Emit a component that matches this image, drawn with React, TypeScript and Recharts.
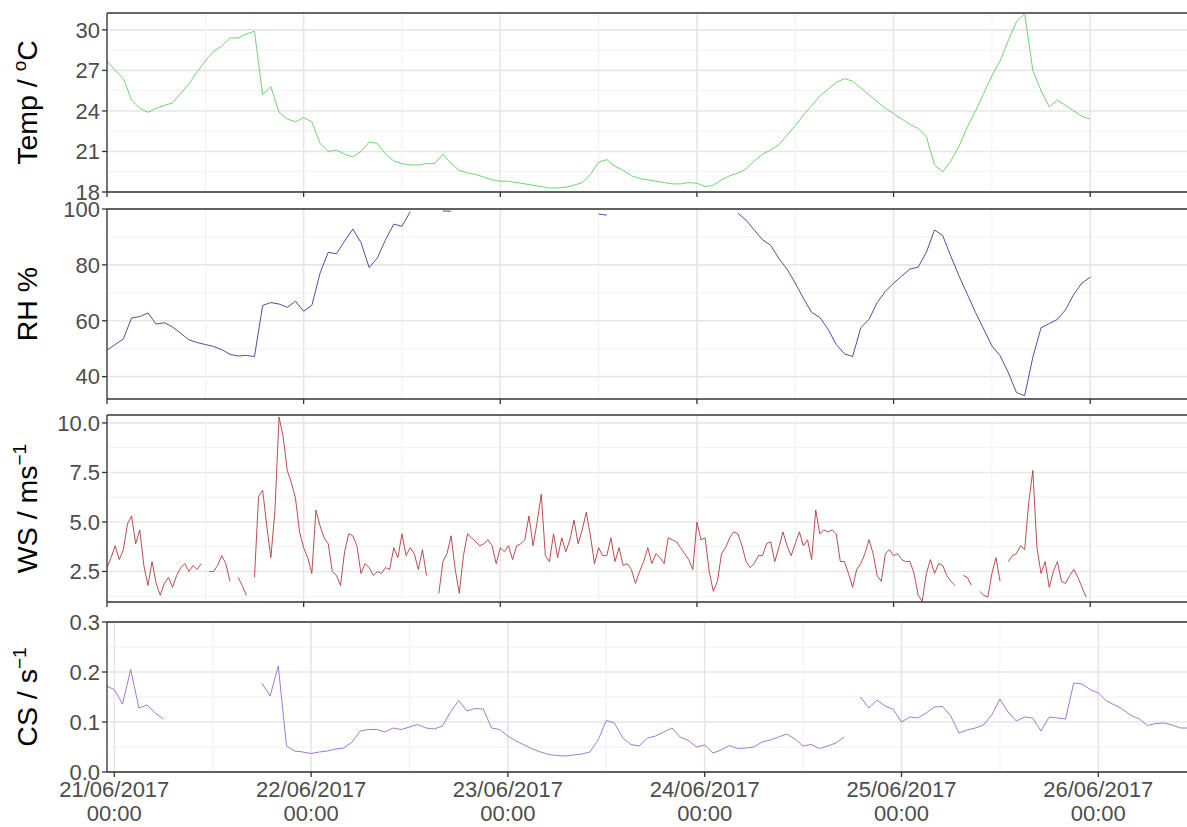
import React from 'react';
import { LineChart, Line, XAxis, YAxis, CartesianGrid, ReferenceLine } from 'recharts';

// hours since 21/06/2017 00:00
const dayTicks = [0, 24, 48, 72, 96, 120];
const halfDayTicks = [12, 36, 60, 84, 108, 132];
const dayLabels = ['21/06/2017', '22/06/2017', '23/06/2017', '24/06/2017', '25/06/2017', '26/06/2017'];
const timeLabel = '00:00';

// temperature, hourly from 0 h
const tempValues = [
  27.7, 27.0, 26.4, 24.8, 24.2, 23.9, 24.2, 24.4, 24.6, 25.3,
  26.0, 26.9, 27.7, 28.4, 28.8, 29.4, 29.4, 29.7, 29.9, 25.2,
  25.8, 23.9, 23.4, 23.2, 23.5, 23.2, 21.6, 21.0, 21.1, 20.8,
  20.6, 21.0, 21.7, 21.6, 20.8, 20.3, 20.1, 20.0, 20.0, 20.1,
  20.1, 20.8, 20.1, 19.6, 19.4, 19.3, 19.1, 18.9, 18.8, 18.8,
  18.7, 18.6, 18.5, 18.4, 18.3, 18.3, 18.35, 18.5, 18.7, 19.3,
  20.2, 20.4, 19.9, 19.6, 19.2, 19.0, 18.9, 18.8, 18.7, 18.6,
  18.6, 18.7, 18.65, 18.4, 18.5, 18.9, 19.2, 19.4, 19.7, 20.3,
  20.8, 21.1, 21.5, 22.2, 22.9, 23.7, 24.4, 25.1, 25.6, 26.1,
  26.4, 26.2, 25.7, 25.2, 24.7, 24.2, 23.8, 23.4, 23.0, 22.7,
  22.1, 20.0, 19.5, 20.3, 21.4, 22.8, 24.0, 25.3, 26.6, 27.7,
  29.2, 30.6, 31.2, 27.0, 25.5, 24.3, 24.8, 24.4, 24.0, 23.6,
  23.4,
];

// relative humidity, hourly from 0 h (null = above the panel)
const rhValues = [
  49.5, 51.5, 53.5, 61, 61.5, 62.8, 58.8, 59.3, 57.8, 55.5,
  53.2, 52.2, 51.5, 50.8, 49.7, 48.0, 47.4, 47.6, 47.2, 65.5,
  66.5, 66.0, 64.8, 67.0, 63.4, 65.5, 77.0, 84.5, 84.0, 88.5,
  92.8, 88.0, 79.0, 82.5, 89.0, 94.6, 93.8, 99.0, null, null,
  null, 99.3, 99.2, null, null, null, null, null, null, null,
  null, null, null, null, null, null, null, null, null, null,
  98.2, 97.8, null, null, null, null, null, null, null, null,
  null, null, null, null, null, null, null, 98.5, 96, 92.5,
  89, 87, 82.3, 78.5, 73.5, 68, 63, 61.2, 57, 51.5,
  48.2, 47.2, 57.5, 60.5, 66.5, 70.5, 73.5, 76, 78.5, 79.2,
  84.5, 92.5, 90.5, 83, 76, 69.5, 63, 57, 51, 47.5,
  41.5, 34.3, 33.2, 47, 57.5, 59, 60.5, 64, 69.5, 73.5,
  75.6,
];

// wind speed, half-hourly from 0 h
const wsValues = [
  2.7, 3.2, 3.8, 3.1, 3.6, 4.9, 5.3, 3.9, 4.6, 2.8,
  1.8, 3.0, 1.9, 1.3, 1.9, 2.2, 1.7, 2.3, 2.7, 2.9,
  2.5, 2.8, 2.6, 2.9, null, 2.5, 2.5, 2.8, 3.3, 2.9,
  2.0, null, 2.2, 1.8, 1.3, null, 2.2, 6.3, 6.6, 4.8,
  3.2, 5.6, 10.3, 9.3, 7.6, 7.0, 6.2, 4.5, 3.7, 3.2,
  2.4, 5.6, 4.8, 4.2, 3.9, 2.5, 2.3, 1.8, 3.5, 4.4,
  4.3, 3.8, 2.4, 2.9, 2.7, 2.3, 2.5, 2.4, 2.7, 2.6,
  3.7, 3.2, 4.4, 3.3, 3.7, 3.4, 2.6, 3.6, 2.3, null,
  null, 1.4, 3.0, 3.4, 4.3, 2.6, 1.4, 3.3, 4.4, 4.2,
  4.0, 3.8, 3.9, 4.1, 3.8, 2.9, 3.7, 3.5, 3.8, 3.1,
  3.8, 3.9, 4.1, 5.3, 3.8, 5.0, 6.4, 3.3, 3.0, 4.4,
  3.2, 4.2, 3.5, 4.1, 5.1, 3.9, 4.6, 5.5, 4.3, 2.9,
  3.7, 3.3, 3.3, 4.2, 3.0, 3.7, 2.8, 2.9, 2.6, 1.9,
  2.5, 3.0, 3.7, 2.9, 3.4, 3.2, 2.9, 4.2, 4.1, 4.0,
  3.7, 3.4, 3.1, 2.6, 5.0, 4.1, 4.2, 2.5, 1.5, 2.0,
  3.4, 3.7, 4.2, 4.5, 4.4, 3.8, 3.0, 2.7, 2.9, 3.3,
  3.3, 3.9, 4.0, 3.0, 3.7, 4.5, 3.8, 3.3, 3.9, 4.5,
  3.8, 4.1, 3.1, 5.6, 4.4, 4.6, 4.5, 4.6, 4.4, 3.0,
  3.0, 2.4, 1.7, 2.6, 2.9, 3.4, 4.1, 3.4, 2.3, 2.0,
  3.4, 3.6, 3.3, 3.4, 3.1, 3.0, 3.0, 2.4, 1.3, 1.0,
  2.4, 3.1, 2.4, 2.9, 2.8, 2.3, 2.0, 1.8, null, 2.3,
  2.2, 1.8, null, 1.5, 1.3, 1.2, 2.4, 3.2, 2.0, null,
  3.0, 3.3, 3.4, 3.8, 3.6, 6.0, 7.6, 3.7, 2.4, 3.0,
  1.7, 2.5, 3.0, 2.0, 1.9, 2.3, 2.6, 2.2, 1.7, 1.2,
];

// CS, hourly from -1 h
const csValues = [
  0.172, 0.165, 0.136, 0.205, 0.128, 0.134, 0.118, 0.106,
  null, null, null, null, null, null, null, null, null, null, null,
  0.178, 0.152, 0.212, 0.052,
  0.042, 0.04, 0.037, 0.04, 0.042, 0.046, 0.048, 0.06,
  0.082, 0.085, 0.085, 0.08, 0.088, 0.085, 0.09, 0.095, 0.088, 0.086,
  0.092, 0.12, 0.143, 0.122, 0.127, 0.126, 0.088, 0.085, 0.072, 0.062,
  0.054, 0.046, 0.04, 0.035, 0.033, 0.032, 0.034, 0.036, 0.04, 0.064,
  0.103, 0.098, 0.068, 0.055, 0.052, 0.068, 0.072, 0.08, 0.088, 0.07,
  0.063, 0.05, 0.054, 0.038, 0.044, 0.053, 0.047, 0.048, 0.05, 0.06,
  0.064, 0.07, 0.076, 0.066, 0.052, 0.055, 0.047, 0.052, 0.058, 0.07,
  null,
  0.15, 0.128, 0.144, 0.132, 0.125, 0.1, 0.11, 0.108, 0.118,
  0.13, 0.131, 0.112, 0.078, 0.084, 0.088, 0.094, 0.114, 0.146, 0.12,
  0.102, 0.11, 0.108, 0.082, 0.11, 0.108, 0.106, 0.178, 0.176, 0.165,
  0.158, 0.142, 0.134, 0.125, 0.113, 0.106, 0.093, 0.097, 0.098, 0.094,
  0.088, 0.088,
];

const toRows = (values: (number | null)[], start: number, step: number) =>
  values.map((v, i) => ({ h: start + i * step, v }));

const tempRows = toRows(tempValues, 0, 1);
const rhRows = toRows(rhValues, 0, 1);
const wsRows = toRows(wsValues, 0, 0.5);
const csRows = toRows(csValues, -1, 1);

const FONT = 'Liberation Sans, Arial, sans-serif';
const AXIS = '#333333';
const TICK_FONT = 22;
const CHART_W = 1200;
const AXIS_W = 107;
const PLOT_W = CHART_W - AXIS_W;

function AxisTitle({ viewBox, main, sup, rest }: any) {
  const cx = (viewBox?.x ?? 0) + 37;
  const cy = (viewBox?.y ?? 0) + (viewBox?.height ?? 0) / 2;
  return (
    <text
      transform={`translate(${cx},${cy}) rotate(-90)`}
      textAnchor="middle"
      fontSize={28.5}
      fontFamily={FONT}
      fill="#000"
    >
      {main}
      {sup && (
        <tspan dy={-11} fontSize={19}>
          {sup}
        </tspan>
      )}
      {sup && <tspan dy={11}>{rest || ''}</tspan>}
    </text>
  );
}

function DayTick({ x, y, payload }: any) {
  const i = dayTicks.indexOf(payload.value);
  return (
    <text x={x} y={y} textAnchor="middle" fill="#4d4d4d" fontSize={TICK_FONT} fontFamily={FONT}>
      <tspan x={x} dy={18}>{dayLabels[i]}</tspan>
      <tspan x={x} dy={24}>{timeLabel}</tspan>
    </text>
  );
}

type PanelProps = {
  rows: { h: number; v: number | null }[];
  color: string;
  domain: [number, number];
  ticks: number[];
  minor: number[];
  xDomain: [number, number];
  top: number;
  height: number;
  marginTop: number;
  marginBottom: number;
  plotHeight: number;
  bottomAxis: boolean;
  title: { main: string; sup?: string; rest?: string };
  tickFormat?: (v: number) => string;
};

function Panel(p: PanelProps) {
  // grid positions along the time axis (same linear mapping as the x scale)
  const toPx = (t: number) => AXIS_W + ((t - p.xDomain[0]) / (p.xDomain[1] - p.xDomain[0])) * PLOT_W;
  const inX = (t: number) => t >= p.xDomain[0] && t <= p.xDomain[1];
  const dayPx = dayTicks.filter(inX).map(toPx);
  const halfPx = halfDayTicks.filter(inX).map(toPx);
  return (
    <div style={{ position: 'absolute', left: 0, top: p.top }}>
      <LineChart
        width={CHART_W}
        height={p.height}
        data={p.rows}
        margin={{ top: p.marginTop, right: 0, bottom: p.marginBottom, left: 0 }}
      >
        <CartesianGrid horizontalValues={p.minor} vertical={false} stroke="#f0f0f0" strokeWidth={1} />
        <CartesianGrid horizontalValues={p.ticks} vertical={false} stroke="#e6e6e6" strokeWidth={1.6} />
        <CartesianGrid horizontal={false} verticalPoints={halfPx} stroke="#f0f0f0" strokeWidth={1} />
        <CartesianGrid horizontal={false} verticalPoints={dayPx} stroke="#e6e6e6" strokeWidth={1.6} />
        {!p.bottomAxis && (
          <CartesianGrid
            x={AXIS_W}
            y={p.marginTop + p.plotHeight}
            width={PLOT_W}
            height={5}
            horizontal={false}
            verticalPoints={dayPx}
            stroke={AXIS}
            strokeWidth={1.3}
          />
        )}
        <XAxis
          type="number"
          dataKey="h"
          domain={p.xDomain}
          allowDataOverflow
          ticks={dayTicks}
          interval={0}
          height={p.bottomAxis ? 55 : 10}
          tickSize={p.bottomAxis ? 5 : 0}
          axisLine={{ stroke: AXIS, strokeWidth: 1.3 }}
          tickLine={{ stroke: AXIS, strokeWidth: 1.3 }}
          tick={p.bottomAxis ? <DayTick /> : false}
        />
        <YAxis
          type="number"
          domain={p.domain}
          allowDataOverflow
          ticks={p.ticks}
          interval={0}
          width={AXIS_W}
          tickSize={5}
          axisLine={{ stroke: AXIS, strokeWidth: 1.3 }}
          tickLine={{ stroke: AXIS, strokeWidth: 1.3 }}
          tick={{ fontSize: TICK_FONT, fill: '#4d4d4d', fontFamily: FONT }}
          tickFormatter={p.tickFormat}
          label={{ content: (lp: any) => <AxisTitle viewBox={lp.viewBox} {...p.title} /> }}
        />
        <ReferenceLine y={p.domain[1]} stroke={AXIS} strokeWidth={1.3} />
        <Line
          type="linear"
          dataKey="v"
          stroke={p.color}
          strokeWidth={0.9}
          dot={false}
          activeDot={false}
          connectNulls={false}
          isAnimationActive={false}
        />
      </LineChart>
    </div>
  );
}

export default function App() {
  const topX: [number, number] = [0, 133.4];
  const bottomX: [number, number] = [-0.89, 132.4];
  return (
    <div
      style={{
        position: 'fixed',
        left: 0,
        top: 0,
        width: 1187,
        height: 827,
        overflow: 'hidden',
        background: '#ffffff',
      }}
    >
      <Panel
        rows={tempRows}
        color="#5fcf5f"
        domain={[18, 31.25]}
        ticks={[18, 21, 24, 27, 30]}
        minor={[19.5, 22.5, 25.5, 28.5]}
        xDomain={topX}
        top={0}
        height={212}
        marginTop={13}
        marginBottom={10}
        plotHeight={179}
        bottomAxis={false}
        title={{ main: 'Temp / ', sup: 'o', rest: 'C' }}
      />
      <Panel
        rows={rhRows}
        color="#3b3b9c"
        domain={[32, 100]}
        ticks={[40, 60, 80, 100]}
        minor={[50, 70, 90]}
        xDomain={topX}
        top={189}
        height={230}
        marginTop={20}
        marginBottom={10}
        plotHeight={190}
        bottomAxis={false}
        title={{ main: 'RH %' }}
      />
      <Panel
        rows={wsRows}
        color="#b33a3a"
        domain={[0.96, 10.4]}
        ticks={[2.5, 5, 7.5, 10]}
        minor={[1.25, 3.75, 6.25, 8.75]}
        xDomain={topX}
        top={395}
        height={227}
        marginTop={20}
        marginBottom={10}
        plotHeight={187}
        bottomAxis={false}
        title={{ main: 'WS / ms', sup: '\u22121' }}
        tickFormat={(v) => v.toFixed(1)}
      />
      <Panel
        rows={csRows}
        color="#9a6acb"
        domain={[0, 0.3]}
        ticks={[0, 0.1, 0.2, 0.3]}
        minor={[0.05, 0.15, 0.25]}
        xDomain={bottomX}
        top={602}
        height={225}
        marginTop={20}
        marginBottom={0}
        plotHeight={150}
        bottomAxis={true}
        title={{ main: 'CS / s', sup: '\u22121' }}
        tickFormat={(v) => v.toFixed(1)}
      />
    </div>
  );
}
